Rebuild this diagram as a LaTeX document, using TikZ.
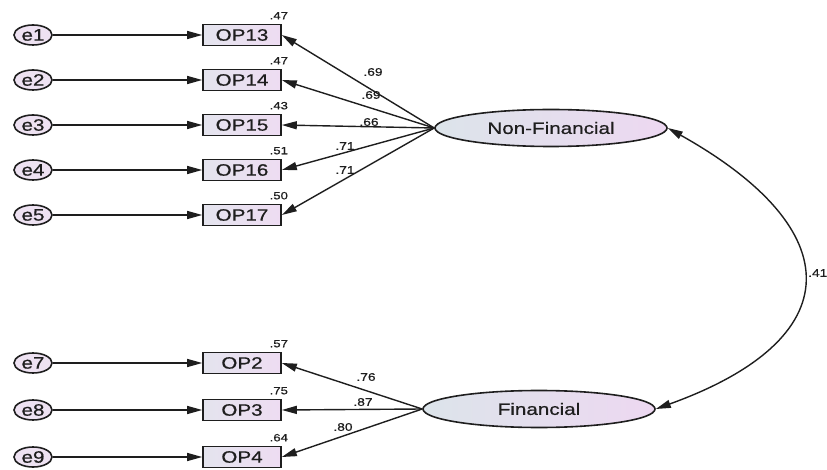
\documentclass[tikz,border=0pt]{standalone}
\usepackage{fontspec}
\setmainfont{Liberation Sans}[FakeStretch=1.25,FakeBold=0.7]
\usetikzlibrary{arrows.meta,shapes.geometric}
\definecolor{ink}{HTML}{1E1E1E}
\definecolor{boxL}{HTML}{E4E4EE}
\definecolor{boxR}{HTML}{EEDCF2}
\definecolor{latL}{HTML}{DCE4EA}
\definecolor{latR}{HTML}{EDD8F1}
\definecolor{errF}{HTML}{EEE2F2}
\tikzset{
  obs/.style={draw=ink,line width=1.6pt,rectangle,minimum width=78pt,minimum height=21pt,
    inner sep=0pt,left color=boxL,right color=boxR,text=ink,font=\fontsize{16.5}{18}\selectfont},
  err/.style={draw=ink,line width=1.6pt,ellipse,minimum width=38pt,minimum height=20pt,
    inner sep=0pt,fill=errF,text=ink,font=\fontsize{16.5}{18}\selectfont},
  lat/.style={draw=ink,line width=1.6pt,ellipse,minimum width=232pt,minimum height=37pt,
    inner sep=0pt,left color=latL,right color=latR,text=ink,font=\fontsize{16.5}{18}\selectfont},
  rsq/.style={text=ink,inner sep=0pt,font=\fontsize{10.5}{12}\selectfont},
  coef/.style={text=ink,inner sep=0pt,font=\fontsize{11}{13}\selectfont},
  path/.style={draw=ink,line width=1.4pt,-{Triangle[length=15pt,width=8pt]}},
  cov/.style={draw=ink,line width=1.4pt,{Triangle[length=15pt,width=8pt]}-{Triangle[length=15pt,width=8pt]}}
}
\begin{document}
\begin{tikzpicture}[x=1pt,y=-1pt]
\useasboundingbox (0,0) rectangle (827,470);

% latent factors
\node[lat] (nf) at (551,128) {Non-Financial};
\node[lat] (fin) at (539,409) {Financial};

% Non-Financial indicators and their errors
\foreach \i/\op/\r/\y in {1/13/.47/35, 2/14/.47/80, 3/15/.43/125, 4/16/.51/170, 5/17/.50/215}{
  \node[err] (e\i) at (33,\y) {e\i};
  \node[obs] (op\op) at (242,\y) {OP\op};
  \node[rsq] at ([shift={(-3,-8)}]op\op.north east) {\r};
  \draw[path] (e\i) -- (op\op);
  \draw[path] (nf.west) -- (op\op.east);
}

% Financial indicators and their errors
\foreach \i/\op/\r/\y in {7/2/.57/363, 8/3/.75/410, 9/4/.64/457}{
  \node[err] (e\i) at (33,\y) {e\i};
  \node[obs] (op\op) at (242,\y) {OP\op};
  \node[rsq] at ([shift={(-3,-8)}]op\op.north east) {\r};
  \draw[path] (e\i) -- (op\op);
  \draw[path] (fin.west) -- (op\op.east);
}

% standardized loadings
\node[coef] at (373,72) {.69};
\node[coef] at (371,95) {.69};
\node[coef] at (369,122) {.66};
\node[coef] at (345,146) {.71};
\node[coef] at (345,170) {.71};
\node[coef] at (366,377) {.76};
\node[coef] at (363,402) {.87};
\node[coef] at (343,427) {.80};

% factor covariance
\draw[cov] (nf.east) .. controls (850,230) and (850,339) .. (fin.east);
\node[coef,anchor=west] at (808,273) {.41};
\end{tikzpicture}
\end{document}
